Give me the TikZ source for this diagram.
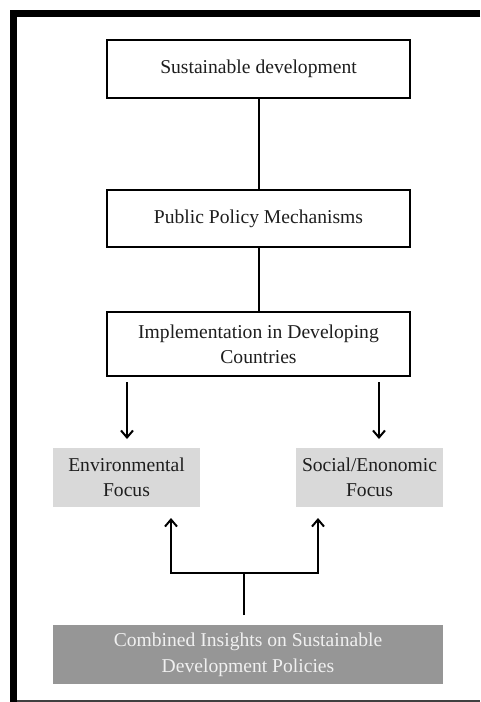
\documentclass[tikz,border=0pt]{standalone}
\usepackage{fontspec}
\setmainfont{Liberation Serif}
\usetikzlibrary{arrows.meta}
\definecolor{lightbox}{RGB}{217,217,217}
\definecolor{darkbox}{RGB}{150,150,150}
\definecolor{txt}{RGB}{30,30,30}
\begin{document}
\begin{tikzpicture}[x=1pt,y=-1pt,
  wbox/.style={draw=black, line width=2pt, fill=white, minimum width=303pt, align=center, inner sep=0pt, text=txt,
    font=\fontsize{19.6}{25}\selectfont},
  gbox/.style={fill=lightbox, minimum width=147pt, minimum height=59pt, align=center, inner sep=0pt, text=txt,
    font=\fontsize{19.6}{25}\selectfont},
  dbox/.style={fill=darkbox, minimum width=390pt, minimum height=59pt, align=center, inner sep=0pt, text=white!94!black,
    font=\fontsize{19.6}{26}\selectfont},
  conn/.style={line width=2pt, black},
  arr/.style={conn, -{Straight Barb[length=7pt,width=12pt,line width=2pt]}}]
\useasboundingbox (0,0) rectangle (480,702);
\fill[white] (0,0) rectangle (480,702);
% frame
\draw[line width=7pt, black] (480,13.5) -- (10,13.5);
\draw[line width=7pt, black] (13.5,10) -- (13.5,702);
\draw[line width=2pt, black!75] (17,700.5) -- (480,700.5);
% nodes
\node[wbox, minimum height=58pt] (sd) at (258.5,69) {Sustainable development};
\node[wbox, minimum height=57pt] (ppm) at (258.5,218.5) {Public Policy Mechanisms};
\node[wbox, minimum height=64pt] (imp) at (258.5,344) {Implementation in Developing\\Countries};
\node[gbox] (env) at (126.5,477.5) {Environmental\\Focus};
\node[gbox] (soc) at (369.5,477.5) {Social/Enonomic\\Focus};
\node[dbox] (comb) at (248,654.5) {Combined Insights on Sustainable\\Development Policies};
% coordinates
\coordinate (aLs) at (127,382);
\coordinate (aLe) at (127,439);
\coordinate (aRs) at (379,382);
\coordinate (aRe) at (379,439);
\coordinate (stem) at (244,615);
\coordinate (fork) at (244,573);
\coordinate (tipL) at (171,518);
\coordinate (tipR) at (318,518);
% connectors
\draw[conn] (sd.south) -- (ppm.north);
\draw[conn] (ppm.south) -- (imp.north);
\draw[arr] (aLs) -- (aLe);
\draw[arr] (aRs) -- (aRe);
\draw[conn] (stem) -- (fork);
\draw[arr] (fork) -| (tipL);
\draw[arr] (fork) -| (tipR);
\end{tikzpicture}
\end{document}
